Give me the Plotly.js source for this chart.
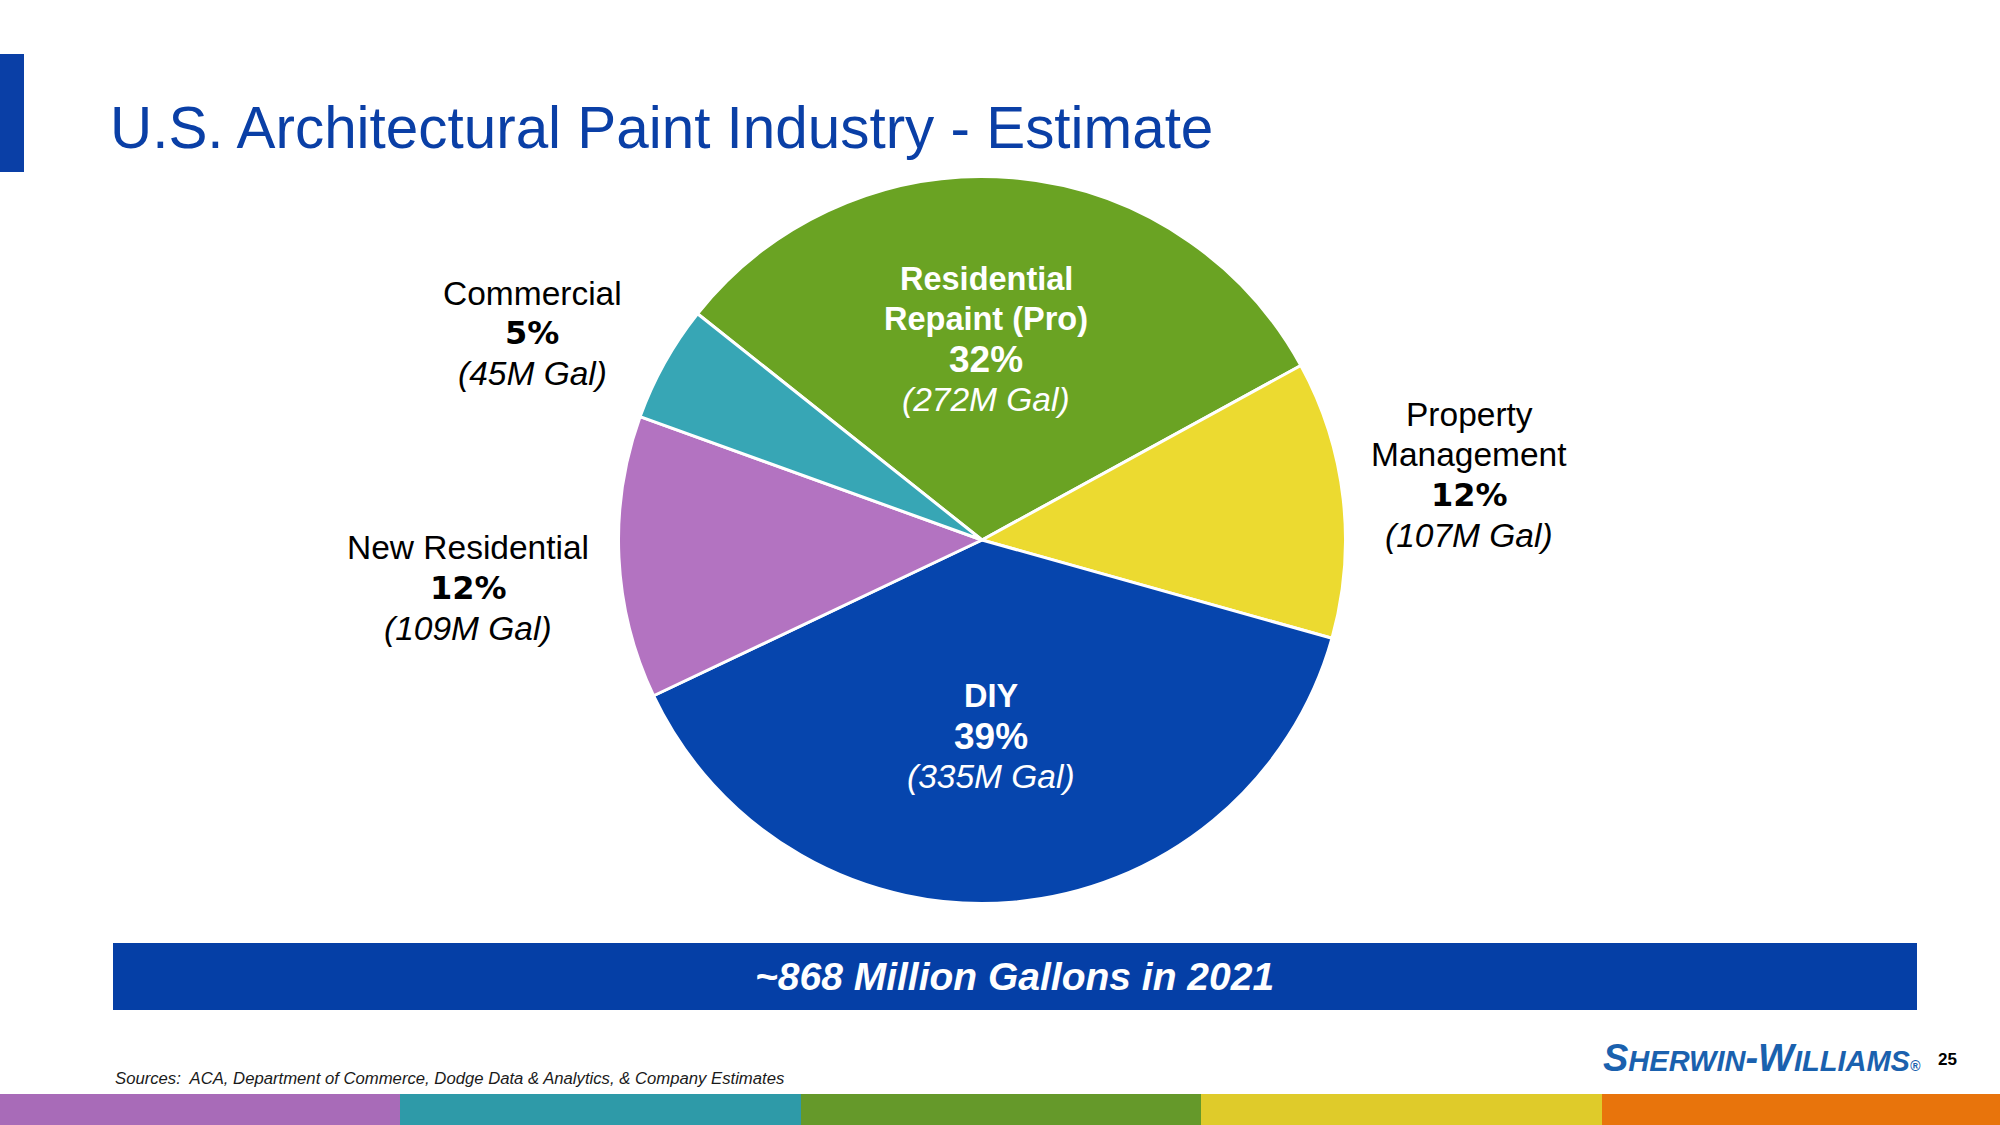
<!DOCTYPE html>
<html>
<head>
<meta charset="utf-8">
<script src="https://cdn.plot.ly/plotly-3.0.1.min.js"></script>
<style>
  html, body { margin: 0; padding: 0; background: #ffffff; }
  #chart { width: 2000px; height: 1125px; }
</style>
</head>
<body>
<div id="chart"></div>
<script>
// ---------------- DATA ----------------
const categories = ['Residential Repaint (Pro)', 'Property Management', 'DIY', 'New Residential', 'Commercial'];
const gallonsM = [272, 107, 335, 109, 45];
const pctLabels = ['32%', '12%', '39%', '12%', '5%'];
const nameLines = [['Residential', 'Repaint (Pro)'], ['Property', 'Management'], ['DIY'], ['New Residential'], ['Commercial']];
const sliceColors = ['#6AA323', '#ECDA30', '#0645AD', '#B373C1', '#37A6B5'];
const titleText = 'U.S. Architectural Paint Industry - Estimate';
const totalText = '~868 Million Gallons in 2021';
const sourcesText = 'Sources:  ACA, Department of Commerce, Dodge Data & Analytics, & Company Estimates';
const pageNumber = '25';
const stripeColors = ['#A86BB8', '#2E9AA8', '#65992A', '#DFCB2A', '#E8740C'];

// ---------------- LAYOUT HELPERS ----------------
const W = 2000, H = 1125;
const px = x => x / W;
const py = y => 1 - y / H;

// label anchor (centre x, first line y) in page pixels, and inside/outside
const labelAnchors = [
  {x: 986, y: 279, inside: true},
  {x: 1469, y: 415, inside: false},
  {x: 991, y: 696, inside: true},
  {x: 468, y: 548, inside: false},
  {x: 532, y: 293, inside: false}
];
const lineStep = 40;

const annotations = [];
categories.forEach((c, i) => {
  const a = labelAnchors[i];
  const col = a.inside ? '#ffffff' : '#000000';
  const lines = [];
  nameLines[i].forEach(t => lines.push({
    text: a.inside ? '<b>' + t + '</b>' : t,
    font: {family: 'Liberation Sans, Arial, sans-serif', size: a.inside ? 32.5 : 33.5, color: col}
  }));
  lines.push({
    text: '<b>' + pctLabels[i] + '</b>',
    font: a.inside
      ? {family: 'Liberation Sans, Arial, sans-serif', size: 37, color: col}
      : {family: 'DejaVu Sans, sans-serif', size: 32, color: col}
  });
  lines.push({
    text: '<i>(' + gallonsM[i] + 'M Gal)</i>',
    font: {family: 'Liberation Sans, Arial, sans-serif', size: 33.5, color: col}
  });
  lines.forEach((l, k) => {
    annotations.push({
      xref: 'paper', yref: 'paper', x: px(a.x), y: py(a.y + k * lineStep),
      xanchor: 'center', yanchor: 'middle', showarrow: false,
      text: l.text, font: l.font
    });
  });
});

// banner text
annotations.push({
  xref: 'paper', yref: 'paper', x: px(1015), y: py(976),
  xanchor: 'center', yanchor: 'middle', showarrow: false,
  text: '<b><i>' + totalText + '</i></b>',
  font: {family: 'Liberation Sans, Arial, sans-serif', size: 39, color: '#ffffff'}
});
// sources
annotations.push({
  xref: 'paper', yref: 'paper', x: px(113), y: py(1078),
  xanchor: 'left', yanchor: 'middle', showarrow: false,
  text: '<i>' + sourcesText + '</i>',
  font: {family: 'Liberation Sans, Arial, sans-serif', size: 16.7, color: '#1a1a1a'}
});
// logo
const big = 38, small = 29;
annotations.push({
  xref: 'paper', yref: 'paper', x: px(1601), y: py(1058),
  xanchor: 'left', yanchor: 'middle', showarrow: false,
  text: '<b><i>S<span style="font-size:' + small + 'px">HERWIN</span>-W<span style="font-size:' + small + 'px">ILLIAMS</span><span style="font-size:14px">®</span></i></b>',
  font: {family: 'Liberation Sans, Arial, sans-serif', size: big, color: '#1A61AE'}
});
// page number
annotations.push({
  xref: 'paper', yref: 'paper', x: px(1947), y: py(1059),
  xanchor: 'center', yanchor: 'middle', showarrow: false,
  text: '<b>' + pageNumber + '</b>',
  font: {family: 'Liberation Sans, Arial, sans-serif', size: 17, color: '#000000'}
});

// decorative shapes
const shapes = [
  {type: 'rect', xref: 'paper', yref: 'paper', x0: 0, x1: px(24), y0: py(172), y1: py(54), fillcolor: '#0A3FA6', line: {width: 0}, layer: 'below'},
  {type: 'rect', xref: 'paper', yref: 'paper', x0: px(113), x1: px(1917), y0: py(1010), y1: py(943), fillcolor: '#053FA6', line: {width: 0}, layer: 'below'}
];
const stripeEdges = [0, 400, 801, 1201, 1602, 2000];
stripeColors.forEach((c, i) => {
  shapes.push({type: 'rect', xref: 'paper', yref: 'paper', x0: px(stripeEdges[i]), x1: px(stripeEdges[i + 1]), y0: 0, y1: py(1094), fillcolor: c, line: {width: 0}, layer: 'below'});
});

// pie geometry
const cx = 982, cy = 540, r = 363.5;

const trace = {
  type: 'pie',
  labels: categories,
  values: gallonsM,
  sort: false,
  direction: 'clockwise',
  rotation: -51.5,
  marker: {colors: sliceColors, line: {color: '#ffffff', width: 3}},
  textinfo: 'none',
  hoverinfo: 'label+value+percent',
  showlegend: false,
  domain: {x: [px(cx - r), px(cx + r)], y: [py(cy + r), py(cy - r)]}
};

const layout = {
  width: W, height: H,
  margin: {l: 0, r: 0, t: 0, b: 0},
  paper_bgcolor: '#ffffff',
  plot_bgcolor: '#ffffff',
  showlegend: false,
  title: {
    text: titleText,
    font: {family: 'Liberation Sans, Arial, sans-serif', size: 58.4, color: '#0A3FA6'},
    x: px(110), xanchor: 'left', xref: 'paper',
    y: py(128), yanchor: 'middle', yref: 'container'
  },
  annotations: annotations,
  shapes: shapes
};

Plotly.newPlot('chart', [trace], layout, {displayModeBar: false, staticPlot: true});
</script>
</body>
</html>
